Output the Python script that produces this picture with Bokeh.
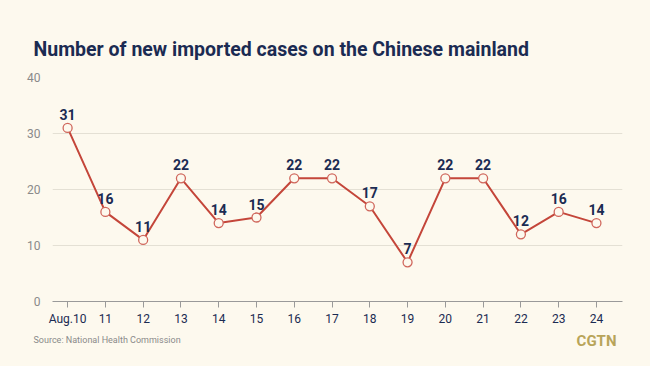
from bokeh.plotting import figure
from bokeh.models import Range1d, FixedTicker, Title, Label, ColumnDataSource, LabelSet
from bokeh.core.properties import value
from bokeh.embed import file_html
from bokeh.resources import INLINE

days = ["Aug.10", "11", "12", "13", "14", "15", "16", "17", "18", "19", "20", "21", "22", "23", "24"]
cases = [31, 16, 11, 22, 14, 15, 22, 22, 17, 7, 22, 22, 12, 16, 14]
y_ticks = [0, 10, 20, 30, 40]

BG = "#FDF9EE"
NAVY = "#1B2B52"
RED = "#C4463A"

xs = list(range(len(days)))
src = ColumnDataSource(dict(x=xs, y=cases, lab=[str(c) for c in cases]))

p = figure(width=650, height=366, output_backend="svg", toolbar_location=None,
           x_range=Range1d(-0.4, 14.69), y_range=Range1d(0, 40),
           min_border_left=52, min_border_right=28, min_border_top=77, min_border_bottom=65)
p.background_fill_color = BG
p.border_fill_color = BG
p.outline_line_color = None

p.line("x", "y", source=src, line_color=RED, line_width=2)
p.scatter("x", "y", source=src, size=9, fill_color=BG, line_color="#D0675C", line_width=1.3)

labels = LabelSet(x="x", y="y", text="lab", source=src, y_offset=8, text_align="center",
                  text_baseline="bottom", text_font=value("Roboto"), text_font_style="bold",
                  text_font_size="14px", text_color=NAVY)
p.add_layout(labels)

p.xaxis.ticker = FixedTicker(ticks=xs)
p.xaxis.major_label_overrides = {i: d for i, d in enumerate(days)}
p.xaxis.axis_line_color = "#9A9A9A"
p.xaxis.major_tick_line_color = "#9A9A9A"
p.xaxis.major_tick_out = 6
p.xaxis.major_tick_in = 0
p.xaxis.minor_tick_line_color = None
p.xaxis.major_label_text_color = NAVY
p.xaxis.major_label_text_font = "Roboto"
p.xaxis.major_label_text_font_size = "12px"
p.xaxis.major_label_standoff = 4

p.yaxis.ticker = FixedTicker(ticks=y_ticks)
p.yaxis.axis_line_color = None
p.yaxis.major_tick_line_color = None
p.yaxis.minor_tick_line_color = None
p.yaxis.major_label_text_color = "#8A8A8A"
p.yaxis.major_label_text_font = "Roboto"
p.yaxis.major_label_text_font_size = "12px"
p.yaxis.major_label_standoff = 6

p.xgrid.grid_line_color = None
p.ygrid.grid_line_color = "#E4E0D4"
p.ygrid.grid_line_width = 1.2

p.add_layout(Title(text="Number of new imported cases on the Chinese mainland",
                   align="left", offset=-19, standoff=33,
                   text_font="Roboto", text_font_style="bold", text_font_size="19.5px",
                   text_color=NAVY), "above")
p.add_layout(Title(text="Source: National Health Commission", align="left", offset=-19,
                   standoff=8, text_font="Roboto", text_font_style="normal",
                   text_font_size="9px", text_color="#8A8A8A"), "below")
p.add_layout(Label(x=564, y=26, x_units="screen", y_units="screen", text="CGTN",
                   text_align="right", text_baseline="middle",
                   text_font="Roboto", text_font_style="bold", text_font_size="15px",
                   text_color="#B8A459"), "below")

html = file_html(p, INLINE)
html = html.replace("<head>", "<head><style>body{background:#FDF9EE;}</style>", 1)
open("out.html", "w").write(html)
